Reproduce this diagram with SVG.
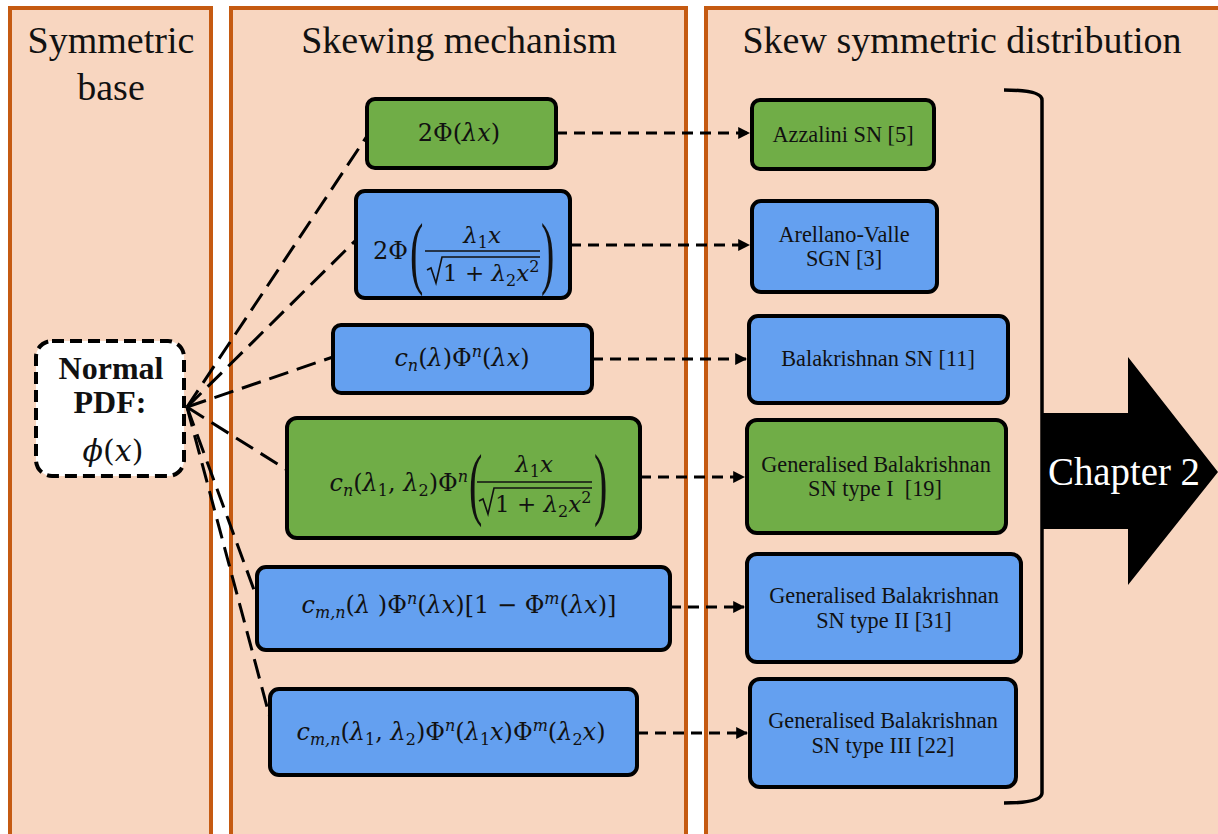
<svg xmlns="http://www.w3.org/2000/svg" width="1218" height="834" viewBox="0 0 1218 834">
  <style>
    text { font-family: "Liberation Serif", Tinos, "Times New Roman", Times, serif; fill: #111; }
    .panel { fill: #F8D6C0; stroke: #C55A11; stroke-width: 4; }
    .title { font-size: 38px; text-anchor: middle; }
    .box { stroke: #000; stroke-width: 4; }
    .green { fill: #70AD47; }
    .blue { fill: #64A0F0; }
    .lbl { font-size: 22.3px; text-anchor: middle; }
    .m { font-family: "DejaVu Serif", serif; font-size: 24px; }
    .f { font-size: 23px; }
    .mc { text-anchor: middle; }
    .me { text-anchor: end; }
    .i { font-style: italic; }
    .s { font-size: 16px; }
    .paren { font-size: 80px; }
    .long { fill: none; stroke: #000; stroke-width: 3; stroke-dasharray: 20 9; }
    .short { fill: none; stroke: #000; stroke-width: 3; stroke-dasharray: 11 7; }
  </style>
  <defs>
    <marker id="head" viewBox="0 0 10 10" refX="9" refY="5" markerWidth="4" markerHeight="4" orient="auto" markerUnits="strokeWidth">
      <path d="M0,0 L10,5 L0,10 z" fill="#000"/>
    </marker>
  </defs>

  <rect width="1218" height="834" fill="#FFFFFF"/>

  <!-- column panels -->
  <g id="panel-base">
    <rect class="panel" x="10" y="8" width="201" height="840"/>
    <text class="title" x="111" y="53">Symmetric</text>
    <text class="title" x="111" y="100">base</text>
  </g>
  <g id="panel-mechanism">
    <rect class="panel" x="231" y="8" width="455" height="840"/>
    <text class="title" x="459" y="53">Skewing mechanism</text>
  </g>
  <g id="panel-distribution">
    <rect class="panel" x="706" y="8" width="520" height="840"/>
    <text class="title" x="962" y="53">Skew symmetric distribution</text>
  </g>

  <!-- connectors -->
  <g id="connectors">
    <path class="long" d="M187,407 L367,136"/>
    <path class="long" d="M187,407 L356,240"/>
    <path class="long" d="M187,407 L333,357"/>
    <path class="long" d="M187,407 L287,470"/>
    <path class="long" d="M187,407 L257,598"/>
    <path class="long" d="M187,407 L270,718"/>

    <path class="short" d="M556,133 L749,133" marker-end="url(#head)"/>
    <path class="short" d="M570,245 L749,245" marker-end="url(#head)"/>
    <path class="short" d="M592,359 L746,359" marker-end="url(#head)"/>
    <path class="short" d="M640,477 L744,477" marker-end="url(#head)"/>
    <path class="short" d="M670,607 L744,607" marker-end="url(#head)"/>
    <path class="short" d="M637,733 L747,733" marker-end="url(#head)"/>
  </g>

  <!-- base density -->
  <g id="normal-pdf">
    <rect x="36" y="341" width="148" height="135" rx="16" fill="#FFFFFF" stroke="#000" stroke-width="4" stroke-dasharray="12 6"/>
    <text x="111" y="379" font-size="32" font-weight="bold" text-anchor="middle">Normal</text>
    <text x="110" y="413" font-size="32" font-weight="bold" text-anchor="middle">PDF:</text>
    <text class="m" x="113" y="461" text-anchor="middle" style="font-size:30px"><tspan class="i">ϕ</tspan>(<tspan class="i">x</tspan>)</text>
  </g>

  <!-- skewing functions -->
  <g id="mech-1">
    <rect class="box green" x="367" y="99" width="189" height="69" rx="8"/>
    <text class="m mc" x="459" y="141">2Φ(<tspan class="i">λx</tspan>)</text>
  </g>

  <g id="mech-2">
    <rect class="box blue" x="356" y="191" width="214" height="107" rx="9"/>
    <text class="m me" x="408" y="259">2Φ</text>
    <text class="paren" x="410" y="279" transform="translate(410 0) scale(0.5 1) translate(-410 0)">(</text>
    <text class="m f mc" x="482" y="243"><tspan class="i">λ</tspan><tspan class="s" dy="5">1</tspan><tspan class="i" dy="-5">x</tspan></text>
    <line x1="425" y1="251" x2="540" y2="251" stroke="#111" stroke-width="1.6"/>
    <path d="M427,270 L431,268 L436,283 L442,257 L540,257" fill="none" stroke="#111" stroke-width="1.6"/>
    <text class="m f" x="443" y="281">1 + <tspan class="i">λ</tspan><tspan class="s" dy="5">2</tspan><tspan class="i" dy="-5">x</tspan><tspan class="s" dy="-9">2</tspan></text>
    <text class="paren" x="541" y="279" transform="translate(541 0) scale(0.5 1) translate(-541 0)">)</text>
  </g>

  <g id="mech-3">
    <rect class="box blue" x="333" y="325" width="259" height="68" rx="8"/>
    <text class="m mc" x="462" y="366"><tspan class="i">c</tspan><tspan class="s i" dy="5">n</tspan><tspan dy="-5">(</tspan><tspan class="i">λ</tspan>)Φ<tspan class="s i" dy="-9">n</tspan><tspan dy="9">(</tspan><tspan class="i">λx</tspan>)</text>
  </g>

  <g id="mech-4">
    <rect class="box green" x="287" y="418" width="353" height="120" rx="10"/>
    <text class="m me" x="468" y="491"><tspan class="i">c</tspan><tspan class="s i" dy="5">n</tspan><tspan dy="-5">(</tspan><tspan class="i">λ</tspan><tspan class="s" dy="5">1</tspan><tspan dy="-5">, </tspan><tspan class="i">λ</tspan><tspan class="s" dy="5">2</tspan><tspan dy="-5">)Φ</tspan><tspan class="s i" dy="-9">n</tspan><tspan dy="9"> </tspan></text>
    <text class="paren" x="469" y="510" transform="translate(469 0) scale(0.5 1) translate(-469 0)">(</text>
    <text class="m f mc" x="534" y="472"><tspan class="i">λ</tspan><tspan class="s" dy="5">1</tspan><tspan class="i" dy="-5">x</tspan></text>
    <line x1="477" y1="482" x2="592" y2="482" stroke="#111" stroke-width="1.6"/>
    <path d="M479,501 L483,499 L488,514 L494,488 L592,488" fill="none" stroke="#111" stroke-width="1.6"/>
    <text class="m f" x="495" y="512">1 + <tspan class="i">λ</tspan><tspan class="s" dy="5">2</tspan><tspan class="i" dy="-5">x</tspan><tspan class="s" dy="-9">2</tspan></text>
    <text class="paren" x="594" y="510" transform="translate(594 0) scale(0.5 1) translate(-594 0)">)</text>
  </g>

  <g id="mech-5">
    <rect class="box blue" x="257" y="567" width="413" height="83" rx="9"/>
    <text class="m mc" x="459" y="613"><tspan class="i">c</tspan><tspan class="s i" dy="5">m,n</tspan><tspan dy="-5">(</tspan><tspan class="i">λ</tspan> )Φ<tspan class="s i" dy="-9">n</tspan><tspan dy="9">(</tspan><tspan class="i">λx</tspan>)[1 − Φ<tspan class="s i" dy="-9">m</tspan><tspan dy="9">(</tspan><tspan class="i">λx</tspan>)]</text>
  </g>

  <g id="mech-6">
    <rect class="box blue" x="270" y="689" width="367" height="86" rx="9"/>
    <text class="m mc" x="451" y="740"><tspan class="i">c</tspan><tspan class="s i" dy="5">m,n</tspan><tspan dy="-5">(</tspan><tspan class="i">λ</tspan><tspan class="s" dy="5">1</tspan><tspan dy="-5">, </tspan><tspan class="i">λ</tspan><tspan class="s" dy="5">2</tspan><tspan dy="-5">)Φ</tspan><tspan class="s i" dy="-9">n</tspan><tspan dy="9">(</tspan><tspan class="i">λ</tspan><tspan class="s" dy="5">1</tspan><tspan class="i" dy="-5">x</tspan>)Φ<tspan class="s i" dy="-9">m</tspan><tspan dy="9">(</tspan><tspan class="i">λ</tspan><tspan class="s" dy="5">2</tspan><tspan class="i" dy="-5">x</tspan>)</text>
  </g>

  <!-- resulting distributions -->
  <g id="dist-1">
    <rect class="box green" x="752" y="100" width="182" height="69" rx="8"/>
    <text class="lbl" x="843" y="142">Azzalini SN [5]</text>
  </g>
  <g id="dist-2">
    <rect class="box blue" x="752" y="201" width="185" height="91" rx="9"/>
    <text class="lbl" x="844" y="242">Arellano-Valle</text>
    <text class="lbl" x="844" y="266">SGN [3]</text>
  </g>
  <g id="dist-3">
    <rect class="box blue" x="749" y="316" width="259" height="87" rx="9"/>
    <text class="lbl" x="878" y="366">Balakrishnan SN [11]</text>
  </g>
  <g id="dist-4">
    <rect class="box green" x="747" y="420" width="259" height="113" rx="10"/>
    <text class="lbl" x="876" y="472">Generalised Balakrishnan</text>
    <text class="lbl" x="875" y="496" xml:space="preserve">SN type I  [19]</text>
  </g>
  <g id="dist-5">
    <rect class="box blue" x="747" y="554" width="274" height="108" rx="10"/>
    <text class="lbl" x="884" y="603">Generalised Balakrishnan</text>
    <text class="lbl" x="884" y="628">SN type II [31]</text>
  </g>
  <g id="dist-6">
    <rect class="box blue" x="750" y="679" width="266" height="108" rx="10"/>
    <text class="lbl" x="883" y="728">Generalised Balakrishnan</text>
    <text class="lbl" x="883" y="753">SN type III [22]</text>
  </g>

  <!-- grouping bracket -->
  <g id="bracket">
    <path d="M1004,90 Q1042,90 1042,100 L1042,793 Q1042,803 1004,803" fill="none" stroke="#000" stroke-width="3.5"/>
  </g>

  <!-- next-chapter arrow -->
  <g id="chapter-arrow">
    <polygon points="1043,413 1128,413 1128,357 1218,472 1128,585 1128,529 1043,529" fill="#000"/>
    <text x="1124" y="485" font-size="40" style="fill:#FFFFFF" text-anchor="middle" textLength="152" lengthAdjust="spacingAndGlyphs">Chapter 2</text>
  </g>
</svg>
